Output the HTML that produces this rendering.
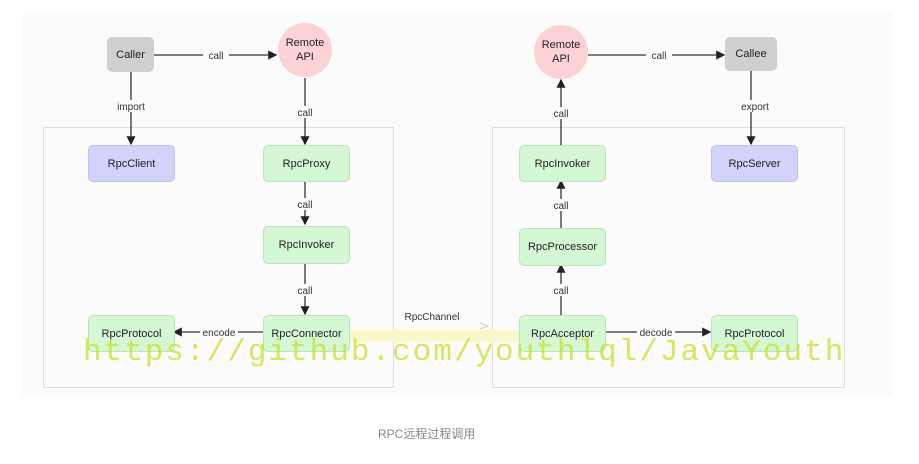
<!DOCTYPE html>
<html><head><meta charset="utf-8"><style>
body{margin:0;width:919px;height:464px;background:#fff;overflow:hidden;position:relative;font-family:"Liberation Sans",sans-serif}
.b{position:absolute;border-radius:5px;display:flex;align-items:center;justify-content:center;font-size:11px;color:#222}
.g{background:#d4f7d4;border:1px solid #b9e6b9}
.p{background:#d2d2fb;border:1px solid #bfbff0}
.c{background:#fcd2d4;border-radius:50%;text-align:center;line-height:14px}
.frame{position:absolute;border:1px solid #ddd}
</style></head><body>
<div style="position:absolute;left:22px;top:12px;width:870px;height:385px;background:#fbfbfb"></div>
<div class="frame" style="left:43px;top:127px;width:349px;height:259px"></div>
<div class="frame" style="left:492px;top:127px;width:351px;height:259px"></div>
<div style="position:absolute;left:348px;top:330px;width:171px;height:12px;background:#f7f8cc"></div>
<svg width="919" height="464" style="position:absolute;left:0;top:0">
<defs><marker id="a" markerWidth="7" markerHeight="7" refX="6" refY="3.5" orient="auto"><path d="M0,0L7,3.5L0,7z" fill="#222"/></marker></defs>
<g stroke="#333" stroke-width="1.3" fill="none">
<line x1="154" y1="55" x2="276" y2="55" marker-end="url(#a)"/>
<line x1="131" y1="72" x2="131" y2="144" marker-end="url(#a)"/>
<line x1="305" y1="78" x2="305" y2="144" marker-end="url(#a)"/>
<line x1="305" y1="180" x2="305" y2="224" marker-end="url(#a)"/>
<line x1="305" y1="262" x2="305" y2="314" marker-end="url(#a)"/>
<line x1="263" y1="332" x2="174" y2="332" marker-end="url(#a)"/>
<line x1="604" y1="332" x2="710" y2="332" marker-end="url(#a)"/>
<line x1="561" y1="315" x2="561" y2="265" marker-end="url(#a)"/>
<line x1="561" y1="228" x2="561" y2="181" marker-end="url(#a)"/>
<line x1="561" y1="145" x2="561" y2="80" marker-end="url(#a)"/>
<line x1="588" y1="55" x2="724" y2="55" marker-end="url(#a)"/>
<line x1="751" y1="71" x2="751" y2="144" marker-end="url(#a)"/>
</g>
<g font-family="Liberation Sans" font-size="10" fill="#333" text-anchor="middle">
<rect x="203" y="49" width="26" height="12" fill="#fbfbfb"/><text x="216" y="59">call</text>
<rect x="114" y="100" width="34" height="12" fill="#fbfbfb"/><text x="131" y="110">import</text>
<rect x="293" y="106" width="24" height="12" fill="#fbfbfb"/><text x="305" y="116">call</text>
<rect x="293" y="198" width="24" height="12" fill="#fbfbfb"/><text x="305" y="208">call</text>
<rect x="293" y="284" width="24" height="12" fill="#fbfbfb"/><text x="305" y="294">call</text>
<rect x="200" y="326" width="38" height="12" fill="#fbfbfb"/><text x="219" y="336">encode</text>
<rect x="637" y="326" width="38" height="12" fill="#fbfbfb"/><text x="656" y="336">decode</text>
<rect x="549" y="107" width="24" height="12" fill="#fbfbfb"/><text x="561" y="117">call</text>
<rect x="549" y="199" width="24" height="12" fill="#fbfbfb"/><text x="561" y="209">call</text>
<rect x="549" y="284" width="24" height="12" fill="#fbfbfb"/><text x="561" y="294">call</text>
<rect x="646" y="49" width="26" height="12" fill="#fbfbfb"/><text x="659" y="59">call</text>
<rect x="740" y="100" width="30" height="12" fill="#fbfbfb"/><text x="755" y="110">export</text>
<text x="432" y="320">RpcChannel</text>
</g>
<path d="M480,323L488,326L480,329" stroke="#ccc" fill="none"/>
</svg>
<div class="b" style="left:107px;top:37px;width:47px;height:35px;background:#cfcfcf">Caller</div>
<div class="b c" style="left:278px;top:23px;width:54px;height:54px">Remote<br>API</div>
<div class="b c" style="left:534px;top:25px;width:54px;height:54px">Remote<br>API</div>
<div class="b" style="left:725px;top:37px;width:52px;height:34px;background:#cfcfcf">Callee</div>
<div class="b p" style="left:88px;top:145px;width:85px;height:35px">RpcClient</div>
<div class="b g" style="left:263px;top:145px;width:85px;height:35px">RpcProxy</div>
<div class="b g" style="left:263px;top:226px;width:85px;height:36px">RpcInvoker</div>
<div class="b g" style="left:263px;top:315px;width:85px;height:35px">RpcConnector</div>
<div class="b g" style="left:88px;top:315px;width:85px;height:35px">RpcProtocol</div>
<div class="b g" style="left:519px;top:145px;width:85px;height:35px">RpcInvoker</div>
<div class="b p" style="left:711px;top:145px;width:85px;height:35px">RpcServer</div>
<div class="b g" style="left:519px;top:228px;width:85px;height:36px">RpcProcessor</div>
<div class="b g" style="left:519px;top:315px;width:85px;height:35px">RpcAcceptor</div>
<div class="b g" style="left:711px;top:315px;width:85px;height:35px">RpcProtocol</div>
<div style="position:absolute;left:83px;top:335px;font-family:'Liberation Mono',monospace;font-size:31px;color:rgba(200,225,40,0.75);white-space:nowrap;letter-spacing:2px">https://github.com/youthlql/JavaYouth</div>
<div style="position:absolute;left:378px;top:425px;font-size:12px;color:#888;font-family:'Liberation Sans','Noto Sans CJK SC',sans-serif">RPC远程过程调用</div>
</body></html>
